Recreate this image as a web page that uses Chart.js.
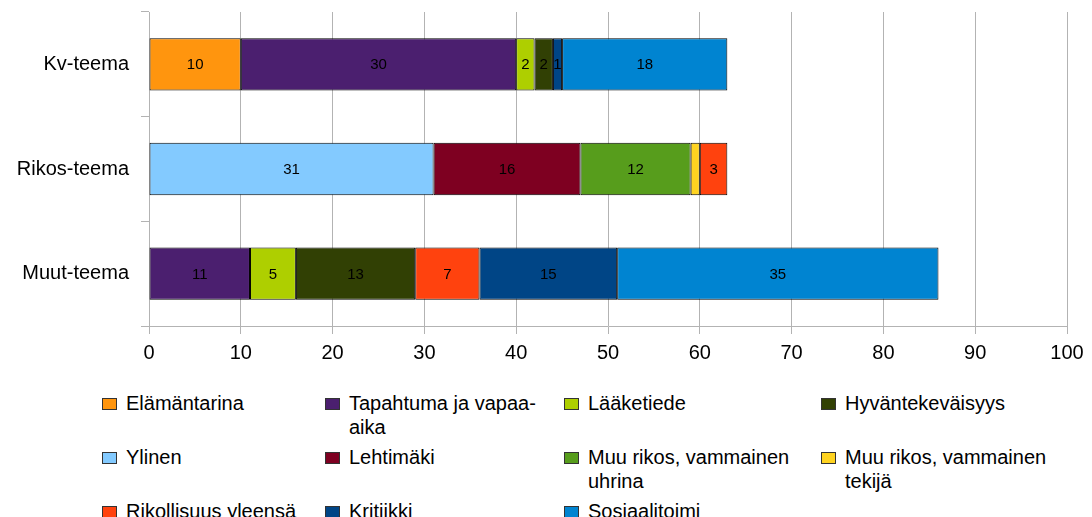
<!DOCTYPE html>
<html>
<head>
<meta charset="utf-8">
<script src="https://cdn.jsdelivr.net/npm/chart.js@4/dist/chart.umd.min.js"></script>
<style>
  body { margin: 0; background: #fff; }
  #wrap { position: relative; width: 1092px; height: 368px; }
  #legend {
    position: absolute; left: 102px; top: 391px;
    display: grid; grid-template-columns: 223px 239px 257px 271px; row-gap: 6px;
    font-family: 'Liberation Sans', Arial, sans-serif; font-size: 20px; line-height: 24px; color: #000;
  }
  .item { display: flex; align-items: flex-start; }
  .box { flex: none; width: 13px; height: 10px; border: 1px solid #333; margin: 7px 9px 0 0; }
</style>
</head>
<body>
<div id="wrap"><canvas id="chart"></canvas></div>
<div id="legend"></div>
<script>
// kategoriat (y-akseli)
const categories = ['Kv-teema', 'Rikos-teema', 'Muut-teema'];

// sarjat, arvot järjestyksessä Kv, Rikos, Muut
const elamantarina     = [10, null, null];
const tapahtuma        = [30, null, 11];
const laaketiede       = [2, null, 5];
const hyvantekevaisyys = [2, null, 13];
const ylinen           = [null, 31, null];
const lehtimaki        = [null, 16, null];
const muuUhrina        = [null, 12, null];
const muuTekija        = [null, 1, null];
const rikollisuus      = [null, 3, 7];
const kritiikki        = [1, null, 15];
const sosiaalitoimi    = [18, null, 35];

// x-akselin asteikko
const xMin = 0;
const xMax = 100;
const xStep = 10;

const series = [
    { label: 'Elämäntarina', data: elamantarina, color: '#ff950e' },
    { label: 'Tapahtuma ja vapaa-aika', data: tapahtuma, color: '#4b1f6f' },
    { label: 'Lääketiede', data: laaketiede, color: '#aecf00' },
    { label: 'Hyväntekeväisyys', data: hyvantekevaisyys, color: '#314004' },
    { label: 'Ylinen', data: ylinen, color: '#83caff' },
    { label: 'Lehtimäki', data: lehtimaki, color: '#7e0021' },
    { label: 'Muu rikos, vammainen uhrina', data: muuUhrina, color: '#579d1c' },
    { label: 'Muu rikos, vammainen tekijä', data: muuTekija, color: '#ffd320', noValue: true },
    { label: 'Rikollisuus yleensä', data: rikollisuus, color: '#ff420e' },
    { label: 'Kritiikki', data: kritiikki, color: '#004586' },
    { label: 'Sosiaalitoimi', data: sosiaalitoimi, color: '#0084d1' }
];

Chart.defaults.font.family = "'Liberation Sans', Arial, sans-serif";
Chart.defaults.font.size = 20;
Chart.defaults.color = '#000';

// arvot palkkien keskelle
const valueLabels = {
    id: 'valueLabels',
    afterDatasetsDraw(chart) {
        const ctx = chart.ctx;
        ctx.save();
        ctx.font = "15px 'Liberation Sans', Arial, sans-serif";
        ctx.fillStyle = '#000';
        ctx.textAlign = 'center';
        ctx.textBaseline = 'middle';
        chart.data.datasets.forEach((ds, i) => {
            if (ds.noValue) return;
            chart.getDatasetMeta(i).data.forEach((el, j) => {
                const v = ds.data[j];
                if (v == null) return;
                ctx.fillText(String(v), (el.x + el.base) / 2, el.y + 1);
            });
        });
        ctx.restore();
    }
};

const chart = new Chart(document.getElementById('chart').getContext('2d'), {
    type: 'bar',
    data: {
        labels: categories,
        datasets: series.map(s => ({
            label: s.label,
            data: s.data,
            noValue: s.noValue,
            backgroundColor: s.color,
            borderColor: '#000',
            borderWidth: 1,
            borderSkipped: false,
            categoryPercentage: 0.5,
            barPercentage: 1
        }))
    },
    options: {
        indexAxis: 'y',
        responsive: true,
        maintainAspectRatio: false,
        animation: false,
        layout: { padding: { top: 12, right: 25, left: 0, bottom: 0 } },
        plugins: { legend: { display: false }, tooltip: { enabled: false } },
        scales: {
            x: {
                stacked: true,
                min: xMin,
                max: xMax,
                ticks: { stepSize: xStep, padding: 7 },
                grid: { color: '#b3b3b3', tickLength: 8 },
                border: { color: '#b3b3b3' },
                afterFit: s => { s.height = 42; }
            },
            y: {
                stacked: true,
                ticks: { padding: 12 },
                grid: { offset: true, drawOnChartArea: false, color: '#b3b3b3', tickLength: 8 },
                border: { color: '#b3b3b3' },
                afterFit: s => { s.width = 149; s.paddingTop = 0; s.paddingBottom = 0; }
            }
        }
    },
    plugins: [valueLabels]
});

// selite neljään sarakkeeseen
const legend = document.getElementById('legend');
chart.data.datasets.forEach(ds => {
    const item = document.createElement('div');
    item.className = 'item';
    const box = document.createElement('span');
    box.className = 'box';
    box.style.background = ds.backgroundColor;
    const txt = document.createElement('span');
    txt.textContent = ds.label;
    item.appendChild(box);
    item.appendChild(txt);
    legend.appendChild(item);
});
</script>
</body>
</html>
